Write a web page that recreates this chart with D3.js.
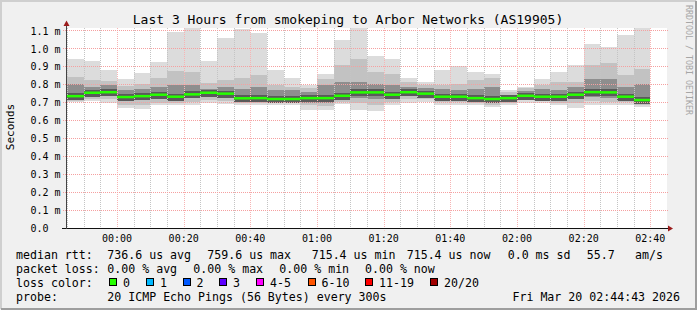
<!DOCTYPE html>
<html>
<head>
<meta charset="utf-8">
<script src="https://cdn.jsdelivr.net/npm/d3@7/dist/d3.min.js"></script>
<style>
  html, body { margin: 0; padding: 0; background: #f0f0f0; }
  svg { display: block; }
  text { font-family: "DejaVu Sans Mono", monospace; fill: #000; }
</style>
</head>
<body>
<svg id="chart" width="697" height="310"></svg>
<script>
  'use strict';

  // 5 minute steps, 23:45 .. 02:40 (values in ms)
  var medians = [0.737, 0.756, 0.759, 0.732, 0.737, 0.745, 0.734, 0.747, 0.756, 0.751,
                 0.725, 0.726, 0.721, 0.721, 0.726, 0.726, 0.739, 0.758, 0.758, 0.745,
                 0.759, 0.751, 0.734, 0.734, 0.726, 0.721, 0.726, 0.739, 0.734, 0.734,
                 0.745, 0.7596, 0.758, 0.734, 0.7154];
  var pingMax  = [0.946, 0.933, 0.884, 0.834, 0.866, 0.927, 1.096, 1.115, 0.933, 1.063,
                  1.113, 1.089, 0.884, 0.840, 0.801, 0.862, 1.052, 1.122, 0.962, 0.946,
                  0.838, 0.815, 0.884, 0.907, 0.871, 0.862, 0.769, 0.788, 0.834, 0.871,
                  0.912, 1.027, 1.011, 1.079, 1.117];
  var ping90   = [0.843, 0.825, 0.819, 0.793, 0.806, 0.838, 0.875, 0.871, 0.810, 0.825,
                  0.838, 0.856, 0.797, 0.788, 0.780, 0.834, 0.908, 0.946, 0.871, 0.862,
                  0.815, 0.800, 0.797, 0.806, 0.825, 0.838, 0.760, 0.780, 0.797, 0.815,
                  0.815, 0.912, 0.921, 0.853, 0.890];
  var ping75   = [0.806, 0.788, 0.797, 0.769, 0.778, 0.788, 0.797, 0.797, 0.778, 0.790,
                  0.778, 0.788, 0.769, 0.769, 0.760, 0.797, 0.815, 0.815, 0.806, 0.797,
                  0.788, 0.780, 0.778, 0.773, 0.778, 0.788, 0.745, 0.765, 0.778, 0.769,
                  0.788, 0.834, 0.834, 0.788, 0.806];
  var ping25   = [0.723, 0.735, 0.740, 0.715, 0.715, 0.725, 0.715, 0.725, 0.735, 0.730,
                  0.710, 0.710, 0.710, 0.710, 0.700, 0.700, 0.720, 0.725, 0.720, 0.725,
                  0.740, 0.735, 0.720, 0.720, 0.710, 0.705, 0.710, 0.725, 0.720, 0.715,
                  0.720, 0.730, 0.725, 0.720, 0.700];
  var ping10   = [0.711, 0.720, 0.720, 0.690, 0.690, 0.700, 0.700, 0.705, 0.715, 0.710,
                  0.700, 0.700, 0.700, 0.700, 0.685, 0.680, 0.705, 0.700, 0.690, 0.705,
                  0.720, 0.720, 0.705, 0.705, 0.700, 0.690, 0.700, 0.715, 0.710, 0.700,
                  0.700, 0.710, 0.705, 0.705, 0.690];
  var pingMin  = [0.704, 0.708, 0.700, 0.671, 0.663, 0.685, 0.685, 0.685, 0.700, 0.695,
                  0.685, 0.685, 0.685, 0.685, 0.658, 0.658, 0.695, 0.660, 0.652, 0.690,
                  0.700, 0.705, 0.690, 0.690, 0.685, 0.675, 0.685, 0.700, 0.700, 0.685,
                  0.672, 0.690, 0.690, 0.690, 0.675];

  var yTicks = [0.0, 0.1, 0.2, 0.3, 0.4, 0.5, 0.6, 0.7, 0.8, 0.9, 1.0, 1.1];

  var lossLabels = ['0', '1', '2', '3', '4-5', '6-10', '11-19', '20/20'];
  var lossColors = ['#26ff00', '#00b8ff', '#0059ff', '#5e00ff', '#ff00ff', '#ff5500', '#ff0000', '#a10000'];
  var lossBoxX   = [109, 146, 182.5, 219, 256, 307.5, 365, 430];

  var statsRow1 = [['median rtt:', 16], ['736.6 us avg', 107.3], ['759.6 us max', 207.3],
                   ['715.4 us min', 311.7], ['715.4 us now', 406.7], ['0.0 ms sd', 507.7],
                   ['55.7', 586.7], ['am/s', 635]];
  var statsRow2 = [['packet loss:', 16], ['0.00 % avg', 107.3], ['0.00 % max', 193.3],
                   ['0.00 % min', 279.3], ['0.00 % now', 365]];

  (function() {
    var start = new Date(Date.UTC(2026, 2, 19, 23, 45));
    var end   = new Date(Date.UTC(2026, 2, 20, 2, 45));

    var svg = d3.select('#chart');
    var pLeft = 67, pRight = 667, pTop = 28, pBottom = 228.5;

    var x = d3.scaleUtc().domain([start, end]).range([pLeft, pRight]);
    var y = d3.scaleLinear().domain([0, 1.1165]).range([pBottom, pTop]);

    // frame
    svg.append('rect').attr('width', 697).attr('height', 310).attr('fill', '#f0f0f0');
    svg.append('path').attr('d', 'M1,309 V1 H696').attr('fill', 'none')
      .attr('stroke', '#cfcfcf').attr('stroke-width', 2);
    svg.append('path').attr('d', 'M1,309 H696 V1').attr('fill', 'none')
      .attr('stroke', '#9e9e9e').attr('stroke-width', 2);

    svg.append('rect').attr('x', pLeft).attr('y', pTop)
      .attr('width', pRight - pLeft).attr('height', pBottom - pTop).attr('fill', '#fff');

    // smoke
    var times = d3.utcMinute.every(5).range(start, new Date(Date.UTC(2026, 2, 20, 2, 40)));
    var bars = svg.append('g').attr('shape-rendering', 'crispEdges');
    var bands = [[pingMin, pingMax, '#dcdcdc'], [ping10, ping90, '#c2c2c2'], [ping25, ping75, '#8e8e8e']];
    var bx = function(d) { return Math.round(x(d)); };
    var bw = function(d) { return Math.round(x(d3.utcMinute.offset(d, 5))) - Math.round(x(d)); };

    bands.forEach(function(b) {
      bars.selectAll(null).data(times).enter().append('rect')
        .attr('x', bx).attr('width', bw)
        .attr('y', function(d, i) { return Math.max(pTop, y(b[1][i])); })
        .attr('height', function(d, i) { return y(b[0][i]) - Math.max(pTop, y(b[1][i])); })
        .attr('fill', b[2]);
    });

    // dark core around median
    bars.selectAll(null).data(times).enter().append('rect')
      .attr('x', bx).attr('width', bw)
      .attr('y', function(d, i) { return y(medians[i]) - 3; })
      .attr('height', 7)
      .attr('fill', '#5a5a5a');

    // grid (dotted, drawn over the smoke like rrdtool does)
    var grid = svg.append('g');
    var minor = d3.utcMinute.every(5).range(start, end).filter(function(d) { return d.getUTCMinutes() % 20 !== 0; });
    var major = d3.utcMinute.every(20).range(start, end);

    grid.selectAll(null).data(minor).enter().append('line')
      .attr('x1', function(d) { return Math.round(x(d)) + 0.5; })
      .attr('x2', function(d) { return Math.round(x(d)) + 0.5; })
      .attr('y1', pTop).attr('y2', pBottom)
      .attr('stroke', '#c4c4c4').attr('stroke-dasharray', '1,1');

    grid.selectAll(null).data(major).enter().append('line')
      .attr('x1', function(d) { return Math.round(x(d)) + 0.5; })
      .attr('x2', function(d) { return Math.round(x(d)) + 0.5; })
      .attr('y1', pTop).attr('y2', pBottom + 2)
      .attr('stroke', '#f7b4b4').attr('stroke-dasharray', '1,1');

    grid.selectAll(null).data(yTicks.slice(1)).enter().append('line')
      .attr('x1', pLeft - 4).attr('x2', pRight + 1)
      .attr('y1', function(d) { return Math.floor(y(d)) + 0.5; })
      .attr('y2', function(d) { return Math.floor(y(d)) + 0.5; })
      .attr('stroke', '#f5a0a0').attr('stroke-dasharray', '1,1');

    // median lines
    svg.append('g').selectAll(null).data(times).enter().append('line')
      .attr('x1', bx)
      .attr('x2', function(d) { return Math.round(x(d3.utcMinute.offset(d, 5))); })
      .attr('y1', function(d, i) { return y(medians[i]); })
      .attr('y2', function(d, i) { return y(medians[i]); })
      .attr('stroke', lossColors[0]).attr('stroke-width', 2.5);

    // axes
    svg.append('line').attr('x1', pLeft - 5).attr('x2', pRight + 2)
      .attr('y1', 228.5).attr('y2', 228.5).attr('stroke', '#111').attr('shape-rendering', 'crispEdges');
    svg.append('line').attr('x1', pLeft - 0.5).attr('x2', pLeft - 0.5)
      .attr('y1', 229).attr('y2', 24).attr('stroke', '#444').attr('shape-rendering', 'crispEdges');
    svg.append('path').attr('d', 'M' + (pRight + 1) + ',225.5 L' + (pRight + 6) + ',228.5 L' + (pRight + 1) + ',231.5 Z')
      .attr('fill', '#9b1c1c');
    svg.append('path').attr('d', 'M' + (pLeft - 3.5) + ',26 L' + (pLeft - 0.5) + ',20.5 L' + (pLeft + 2.5) + ',26 Z')
      .attr('fill', '#9b1c1c');

    svg.append('g').selectAll(null).data(yTicks).enter().append('text')
      .attr('x', 30.5).attr('y', function(d) { return y(d) + 3.6; })
      .style('font-size', '10px')
      .text(function(d) { return d === 0 ? '0.0' : d3.format('.1f')(d) + ' m'; });

    svg.append('g').selectAll(null).data(major.filter(function(d) { return x(d) > pLeft + 20; })).enter().append('text')
      .attr('x', function(d) { return x(d); }).attr('y', 242)
      .attr('text-anchor', 'middle').style('font-size', '10px')
      .text(d3.utcFormat('%H:%M'));

    svg.append('text').attr('transform', 'translate(14,127) rotate(-90)')
      .attr('text-anchor', 'middle').style('font-size', '11px').text('Seconds');

    svg.append('text').attr('x', 348).attr('y', 24).attr('text-anchor', 'middle')
      .style('font-size', '13px').text('Last 3 Hours from smokeping to Arbor Networks (AS19905)');

    svg.append('text').attr('transform', 'translate(686,5) rotate(90)')
      .style('font-size', '8.3px').style('fill', '#a6a6a6').text('RRDTOOL / TOBI OETIKER');

    // legend
    var legend = svg.append('g').style('font-size', '11.6px');
    statsRow1.forEach(function(s) {
      legend.append('text').attr('x', s[1]).attr('y', 259).text(s[0]);
    });
    statsRow2.forEach(function(s) {
      legend.append('text').attr('x', s[1]).attr('y', 272.5).text(s[0]);
    });
    legend.append('text').attr('x', 16).attr('y', 286.5).text('loss color:');
    lossLabels.forEach(function(l, i) {
      legend.append('rect').attr('x', lossBoxX[i] + 0.5).attr('y', 278.5).attr('width', 7).attr('height', 7)
        .attr('fill', lossColors[i]).attr('stroke', '#000').attr('shape-rendering', 'crispEdges');
      legend.append('text').attr('x', lossBoxX[i] + 14).attr('y', 286.5).text(l);
    });
    legend.append('text').attr('x', 16).attr('y', 300.5).text('probe:');
    legend.append('text').attr('x', 107.3).attr('y', 300.5).text('20 ICMP Echo Pings (56 Bytes) every 300s');
    legend.append('text').attr('x', 680).attr('y', 300.5).attr('text-anchor', 'end').text('Fri Mar 20 02:44:43 2026');
  })();
</script>
</body>
</html>
